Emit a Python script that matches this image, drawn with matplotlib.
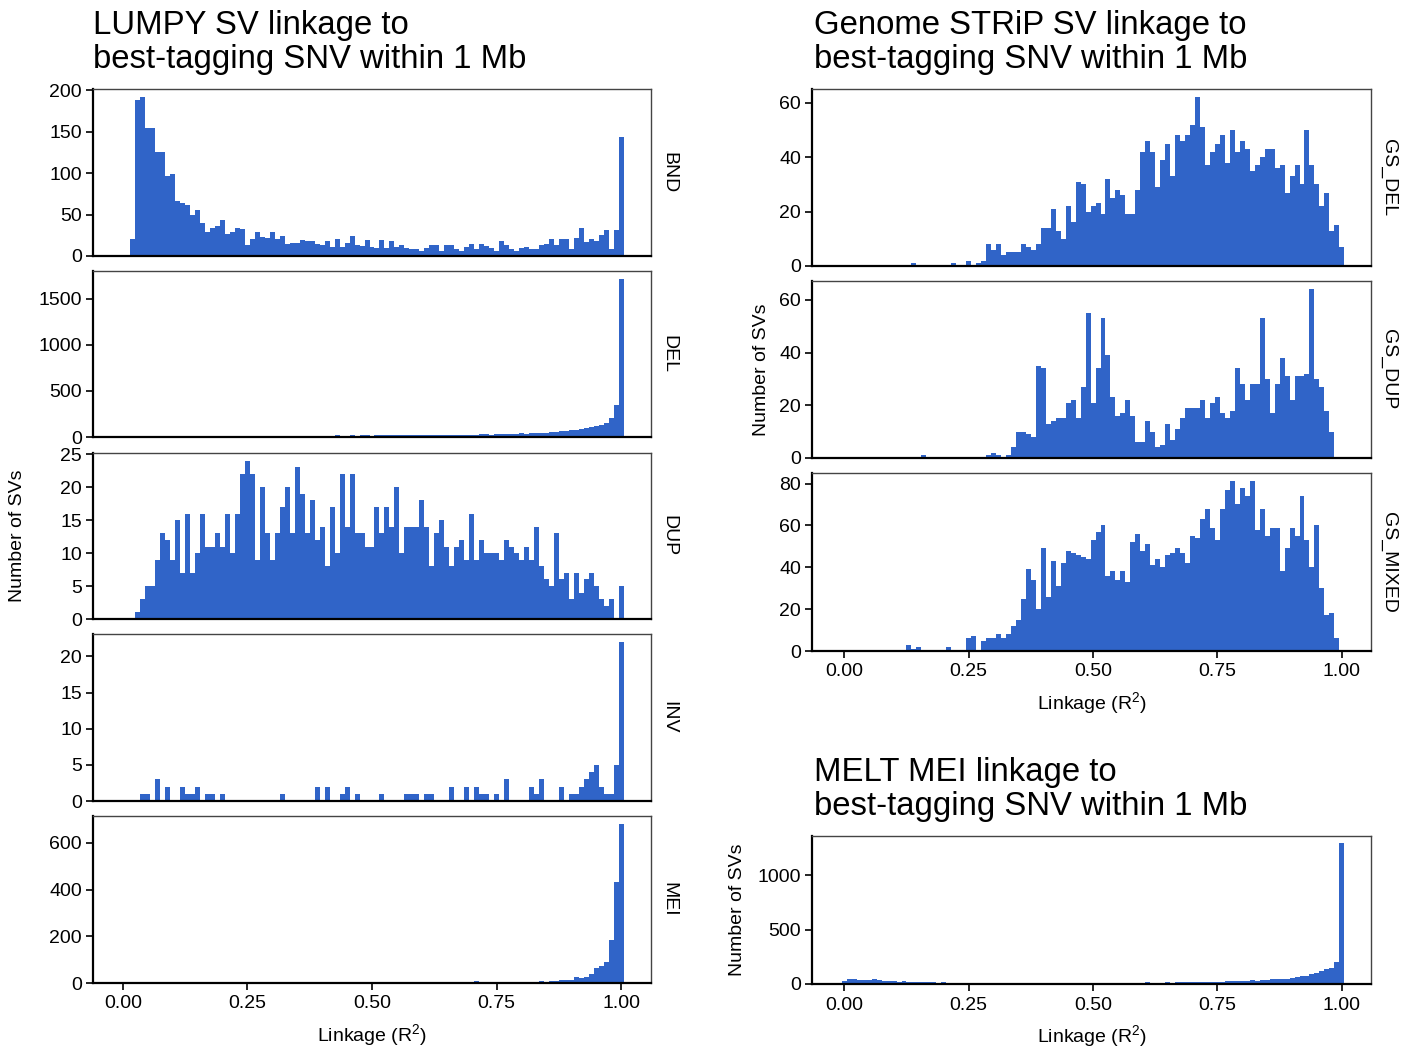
import numpy as np
import matplotlib
matplotlib.use("Agg")
import matplotlib.pyplot as plt

plt.rcParams["font.family"] = ["Liberation Sans", "DejaVu Sans"]
plt.rcParams["mathtext.fontset"] = "custom"
plt.rcParams["mathtext.rm"] = "Liberation Sans"

# bin centres of the R^2 histograms (bin width 0.01)
r2_bins = np.round(np.arange(101) * 0.01, 2)

# LUMPY SV counts per bin
bnd = [0, 0, 20, 188, 192, 154, 154, 126, 126, 97,
       99, 66, 64, 62, 50, 55, 40, 29, 34, 36,
       44, 27, 29, 34, 32, 13, 21, 29, 23, 22,
       29, 21, 24, 14, 16, 16, 19, 18, 18, 14,
       13, 18, 11, 21, 11, 16, 24, 13, 12, 19,
       11, 10, 19, 10, 18, 11, 13, 10, 9, 8,
       6, 10, 13, 13, 6, 13, 13, 8, 6, 11,
       14, 9, 14, 12, 10, 6, 18, 13, 9, 6,
       10, 11, 8, 8, 13, 14, 20, 13, 20, 21,
       8, 22, 34, 17, 21, 18, 25, 31, 8, 31,
       144]
dele = [2, 3, 4, 3, 5, 4, 6, 5, 4, 6,
        7, 5, 6, 8, 6, 7, 9, 6, 8, 7,
        9, 8, 10, 9, 8, 11, 10, 12, 9, 11,
        12, 10, 13, 11, 14, 12, 13, 15, 12, 14,
        16, 13, 15, 17, 14, 16, 18, 15, 17, 19,
        16, 18, 20, 17, 19, 21, 18, 20, 22, 19,
        21, 23, 20, 22, 24, 21, 25, 23, 26, 24,
        27, 25, 28, 30, 27, 31, 29, 33, 35, 32,
        38, 36, 42, 40, 45, 48, 52, 55, 60, 66,
        72, 80, 88, 95, 105, 118, 132, 150, 205, 345,
        1715]
dup = [0, 0, 0, 1, 3, 5, 5, 9, 13, 12,
       9, 15, 7, 16, 7, 10, 16, 11, 11, 13,
       11, 16, 10, 16, 22, 24, 22, 9, 20, 13,
       9, 13, 17, 20, 13, 23, 19, 13, 18, 12,
       14, 8, 17, 10, 22, 14, 22, 13, 13, 11,
       11, 17, 13, 17, 14, 20, 10, 14, 14, 14,
       18, 14, 8, 13, 15, 11, 8, 11, 12, 9,
       16, 9, 12, 10, 10, 10, 9, 12, 11, 10,
       9, 11, 9, 14, 8, 6, 5, 13, 6, 7,
       3, 7, 4, 6, 7, 5, 3, 2, 3, 0,
       5]
inv = [0, 0, 0, 0, 1, 1, 0, 3, 0, 2,
       0, 0, 2, 1, 1, 2, 0, 1, 1, 0,
       1, 0, 0, 0, 0, 0, 0, 0, 0, 0,
       0, 0, 1, 0, 0, 0, 0, 0, 0, 2,
       0, 2, 0, 0, 1, 2, 0, 1, 0, 0,
       0, 0, 1, 0, 0, 0, 0, 1, 1, 1,
       0, 1, 1, 0, 0, 0, 2, 0, 0, 2,
       0, 2, 1, 1, 0, 1, 0, 3, 0, 0,
       0, 0, 2, 1, 3, 0, 0, 0, 2, 0,
       1, 1, 2, 3, 4, 5, 2, 1, 1, 5,
       22]
mei = [0, 1, 0, 0, 1, 0, 0, 1, 2, 0,
       0, 1, 0, 0, 0, 1, 0, 0, 1, 0,
       0, 0, 1, 0, 0, 0, 0, 1, 0, 0,
       1, 0, 0, 1, 0, 0, 0, 1, 0, 1,
       0, 0, 1, 0, 1, 0, 0, 1, 0, 1,
       0, 1, 1, 0, 1, 0, 1, 1, 2, 1,
       1, 2, 1, 2, 2, 1, 3, 2, 3, 2,
       4, 8, 3, 4, 3, 2, 4, 3, 5, 4,
       6, 4, 4, 6, 7, 6, 10, 10, 13, 13,
       14, 24, 20, 24, 40, 64, 71, 89, 184, 431,
       681]

# Genome STRiP SV counts per bin
gs_del = [0, 0, 0, 0, 0, 0, 0, 0, 0, 0,
          0, 0, 0, 0, 1, 0, 0, 0, 0, 0,
          0, 0, 1, 0, 0, 2, 0, 1, 2, 8,
          6, 8, 4, 5, 5, 5, 8, 7, 6, 8,
          14, 14, 21, 13, 10, 22, 16, 31, 30, 20,
          22, 23, 19, 32, 25, 28, 26, 19, 19, 28,
          42, 46, 42, 29, 39, 45, 33, 48, 46, 48,
          52, 62, 51, 37, 42, 45, 48, 38, 50, 42,
          46, 43, 35, 37, 40, 43, 43, 36, 37, 27,
          33, 37, 30, 50, 37, 30, 22, 27, 13, 15,
          7]
gs_dup = [0, 0, 0, 0, 0, 0, 0, 0, 0, 0,
          0, 0, 0, 0, 0, 0, 1, 0, 0, 0,
          0, 0, 0, 0, 0, 0, 0, 0, 0, 1,
          2, 1, 0, 1, 4, 10, 10, 9, 8, 35,
          34, 13, 14, 15, 15, 21, 22, 15, 27, 55,
          21, 34, 53, 39, 23, 16, 17, 22, 16, 6,
          6, 14, 10, 4, 5, 13, 7, 11, 15, 19,
          19, 19, 22, 15, 21, 23, 17, 15, 18, 34,
          28, 22, 28, 28, 53, 30, 17, 28, 38, 31,
          22, 31, 31, 32, 64, 30, 27, 18, 10, 0,
          0]
gs_mixed = [0, 0, 0, 0, 0, 0, 0, 0, 0, 0,
            0, 0, 0, 3, 1, 2, 0, 0, 0, 0,
            0, 2, 0, 0, 0, 6, 7, 0, 5, 6,
            6, 8, 6, 8, 12, 15, 25, 39, 34, 20,
            49, 26, 43, 31, 42, 48, 47, 46, 45, 44,
            53, 57, 60, 36, 38, 34, 38, 33, 52, 56,
            48, 51, 41, 44, 40, 46, 47, 49, 47, 42,
            55, 54, 63, 68, 59, 53, 68, 77, 81, 70,
            78, 74, 81, 58, 68, 55, 59, 59, 38, 49,
            59, 55, 74, 53, 40, 60, 30, 17, 18, 6,
            0]

# MELT MEI counts per bin
melt = [30, 46, 44, 40, 38, 36, 44, 34, 30, 28,
        26, 22, 24, 20, 18, 16, 18, 15, 14, 12,
        14, 12, 10, 12, 11, 10, 12, 9, 10, 11,
        9, 10, 8, 10, 9, 8, 10, 9, 11, 8,
        9, 10, 8, 9, 11, 10, 9, 12, 10, 8,
        11, 9, 10, 12, 11, 10, 13, 11, 12, 10,
        12, 14, 11, 13, 12, 15, 13, 16, 14, 17,
        15, 18, 16, 20, 18, 22, 21, 25, 23, 28,
        26, 30, 34, 32, 38, 36, 44, 42, 50, 48,
        56, 62, 70, 78, 90, 102, 118, 135, 150, 205,
        1296]

BLUE = "#3064C8"
W, H = 1419, 1053
fig = plt.figure(figsize=(W / 100, H / 100), dpi=100)


def panel(x0, y0, x1, y1, counts, yticks, strip=None, xaxis=False,
          xlim=(-0.0602, 1.0602)):
    ax = fig.add_axes([x0 / W, 1 - y1 / H, (x1 - x0) / W, (y1 - y0) / H])
    ax.bar(r2_bins, counts, width=0.01, color=BLUE, linewidth=0)
    ax.set_xlim(*xlim)
    ax.set_ylim(0, max(counts) * 1.05)
    ax.set_yticks(yticks)
    ax.set_xticks([0, 0.25, 0.5, 0.75, 1.0])
    if xaxis:
        ax.set_xticklabels(["0.00", "0.25", "0.50", "0.75", "1.00"])
        ax.set_xlabel("Linkage (R$^\\mathregular{2}$)", fontsize=14, labelpad=7)
        ax.tick_params(axis="x", length=5, width=1.2, labelsize=14, pad=4)
    else:
        ax.tick_params(axis="x", length=0, labelbottom=False)
    ax.tick_params(axis="y", length=5, width=1.2, labelsize=14, pad=3)
    for s in ("left", "bottom"):
        ax.spines[s].set_linewidth(1.6)
        ax.spines[s].set_color("black")
    for s in ("top", "right"):
        ax.spines[s].set_linewidth(1.0)
        ax.spines[s].set_color("#444444")
    if strip:
        ax.text(1.032, 0.5, strip, transform=ax.transAxes, rotation=-90,
                ha="center", va="center", fontsize=14)
    return ax


# LUMPY column
panel(93, 89, 651, 256, bnd, [0, 50, 100, 150, 200], "BND")
panel(93, 271, 651, 437, dele, [0, 500, 1000, 1500], "DEL")
panel(93, 453, 651, 619, dup, [0, 5, 10, 15, 20, 25], "DUP")
panel(93, 634, 651, 801, inv, [0, 5, 10, 15, 20], "INV")
panel(93, 816, 651, 983, mei, [0, 200, 400, 600], "MEI", xaxis=True)
fig.text(18 / W, 1 - 536 / H, "Number of SVs", rotation=90,
         ha="center", va="center", fontsize=14)

# Genome STRiP column
rx = (-0.0649, 1.0587)
panel(812, 89, 1371, 266, gs_del, [0, 20, 40, 60], "GS_DEL", xlim=rx)
panel(812, 281, 1371, 458, gs_dup, [0, 20, 40, 60], "GS_DUP", xlim=rx)
panel(812, 473, 1371, 651, gs_mixed, [0, 20, 40, 60, 80], "GS_MIXED",
      xaxis=True, xlim=rx)
fig.text(762 / W, 1 - 370 / H, "Number of SVs", rotation=90,
         ha="center", va="center", fontsize=14)

# MELT panel
panel(812, 836, 1371, 984, melt, [0, 500, 1000], xaxis=True, xlim=rx)
fig.text(738 / W, 1 - 910 / H, "Number of SVs", rotation=90,
         ha="center", va="center", fontsize=14)

# titles
TS = 23.7
fig.text(93 / W, 1 - 34 / H, "LUMPY SV linkage to", fontsize=TS, va="baseline")
fig.text(93 / W, 1 - 68 / H, "best-tagging SNV within 1 Mb", fontsize=TS,
         va="baseline")
fig.text(814 / W, 1 - 34 / H, "Genome STRiP SV linkage to", fontsize=TS,
         va="baseline")
fig.text(814 / W, 1 - 68 / H, "best-tagging SNV within 1 Mb", fontsize=TS,
         va="baseline")
fig.text(814 / W, 1 - 781 / H, "MELT MEI linkage to", fontsize=TS,
         va="baseline")
fig.text(814 / W, 1 - 815 / H, "best-tagging SNV within 1 Mb", fontsize=TS,
         va="baseline")

fig.savefig("out.png", dpi=100)
